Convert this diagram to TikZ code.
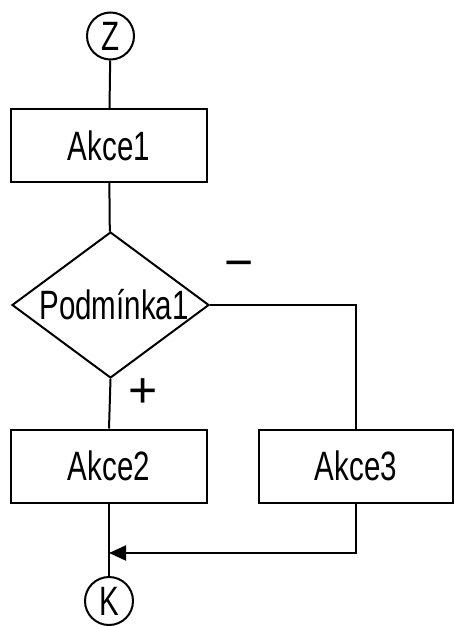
\documentclass[tikz,border=0pt]{standalone}
\usepackage{fontspec}
\setmainfont{Liberation Sans}[FakeStretch=0.72]
\newfontfamily\signfont{Liberation Sans}
\usetikzlibrary{shapes.geometric,arrows.meta}
\begin{document}
\begin{tikzpicture}[x=1pt,y=-1pt,
  line width=2pt,
  every node/.style={font=\fontsize{41}{43}\selectfont},
  term/.style={circle,draw,minimum size=47pt,inner sep=0pt},
  actbox/.style={rectangle,draw,minimum width=196pt,minimum height=73pt,inner sep=0pt},
  cond/.style={diamond,draw,minimum width=197pt,minimum height=146pt,inner sep=0pt},
  sign/.style={font=\signfont\fontsize{50}{52}\selectfont,inner sep=0pt}]
\useasboundingbox (0,0) rectangle (454,626);
\node[term] (z) at (110.5,36) {Z};
\node[actbox] (a1) at (109,145.5) {Akce1};
\node[cond] (p1) at (110.5,305) {};
\node (p1t) at (114,305) {Podmínka1};
\node[actbox] (a2) at (109,466) {Akce2};
\node[actbox,minimum width=194pt] (a3) at (356,466) {Akce3};
\node[term,minimum size=48pt] (k) at (109,601) {K};
\coordinate (j) at (109,553);
\node[sign] (minus) at (239,270) {−};
\node[sign] (plus) at (143,393) {+};
\draw (z) -- (a1);
\draw (a1) -- (p1);
\draw (p1.south) -- (a2.north);
\draw (p1.east) -| (a3.north);
\draw (a2.south) -- (k.north);
\draw[-{Triangle[length=17pt,width=15pt]}] (a3.south) |- (j);
\end{tikzpicture}
\end{document}
